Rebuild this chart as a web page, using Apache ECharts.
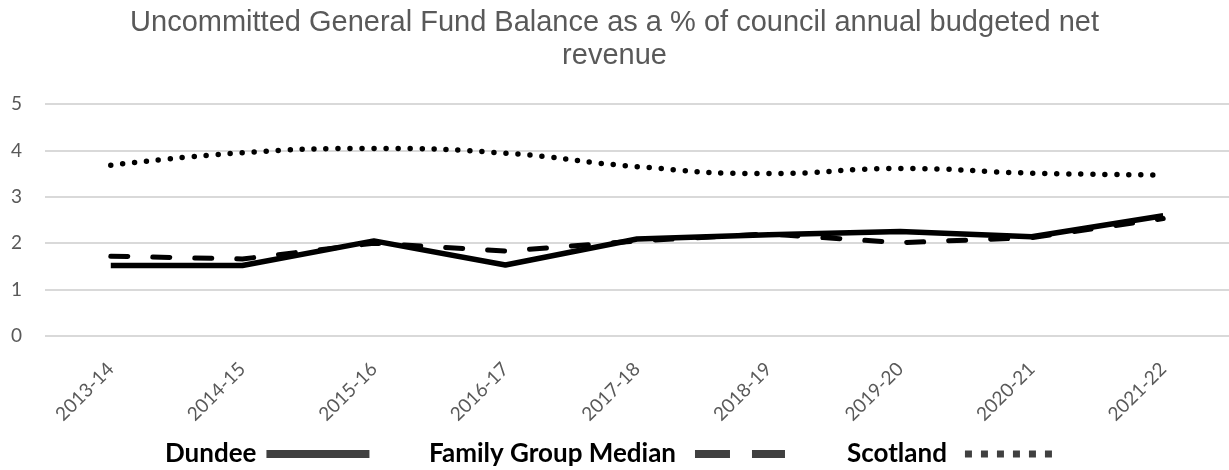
<!DOCTYPE html>
<html>
<head>
<meta charset="utf-8">
<script src="https://cdn.jsdelivr.net/npm/echarts@6/dist/echarts.min.js"></script>
<style>
  html, body { margin: 0; padding: 0; background: #fff; }
  #chart { width: 1229px; height: 470px; }
</style>
</head>
<body>
<div id="chart"></div>
<script>
// Financial years on the category axis
const years = ['2013-14', '2014-15', '2015-16', '2016-17', '2017-18', '2018-19', '2019-20', '2020-21', '2021-22'];

// Uncommitted General Fund balance, % of annual budgeted net revenue
const dundee = [1.52, 1.52, 2.05, 1.53, 2.09, 2.18, 2.25, 2.14, 2.59];
const familyGroupMedian = [1.72, 1.66, 2.0, 1.83, 2.05, 2.2, 2.01, 2.12, 2.53];
const scotland = [3.68, 3.95, 4.04, 3.94, 3.65, 3.5, 3.61, 3.51, 3.47];

// Value axis ticks
const yTicks = [0, 1, 2, 3, 4, 5];

const titleText = 'Uncommitted General Fund Balance as a % of council annual budgeted net\nrevenue';

const chart = echarts.init(document.getElementById('chart'), null, { renderer: 'canvas' });

const labelFont = 'Lato, "Open Sans", sans-serif';
const legendText = {
  fontFamily: labelFont,
  fontWeight: 'bold',
  fontSize: 26,
  color: '#000000'
};

// One legend block per series: bold name followed by its line sample
function legendFor(name, icon, w, h, left, gap) {
  return {
    left: left,
    top: 441,
    padding: 0,
    align: 'right',
    selectedMode: false,
    itemWidth: w,
    itemHeight: h,
    textStyle: Object.assign({ padding: [0, gap, 0, 0] }, legendText),
    data: [{
      name: name,
      icon: icon,
      itemStyle: { color: '#404040', borderWidth: 0 }
    }]
  };
}

chart.setOption({
  animation: false,
  backgroundColor: '#ffffff',
  title: {
    text: titleText,
    left: 'center',
    top: 6,
    padding: 0,
    textStyle: {
      fontFamily: '"Liberation Sans", Arial, sans-serif',
      fontWeight: 'normal',
      fontSize: 29,
      lineHeight: 33,
      color: '#595959'
    }
  },
  legend: [
    legendFor('Dundee', 'path://M0,0H103V8H0Z', 103, 8, 165, 5),
    legendFor('Family Group Median', 'path://M0,0H35V8H0Z M57,0H90V8H57Z', 90, 8, 429, 14),
    legendFor('Scotland',
      'path://M0,0H7V7H0Z M16,0H23V7H16Z M32,0H39V7H32Z M48,0H55V7H48Z M64,0H71V7H64Z M80,0H87V7H80Z',
      87, 7, 847, 13)
  ],
  grid: {
    left: 45,
    right: 0,
    top: 104,
    bottom: 134,
    containLabel: false
  },
  xAxis: {
    type: 'category',
    data: years,
    boundaryGap: true,
    axisLine: { show: false },
    axisTick: { show: false },
    axisLabel: {
      rotate: 45,
      margin: 30,
      fontFamily: labelFont,
      fontSize: 19,
      color: '#595959',
      interval: 0
    }
  },
  yAxis: {
    type: 'value',
    min: yTicks[0],
    max: yTicks[yTicks.length - 1],
    interval: 1,
    axisLine: { show: false },
    axisTick: { show: false },
    axisLabel: {
      margin: 23,
      fontFamily: labelFont,
      fontSize: 19,
      color: '#595959'
    },
    splitLine: { lineStyle: { color: '#d9d9d9', width: 2 } }
  },
  series: [
    {
      name: 'Dundee',
      type: 'line',
      data: dundee,
      symbol: 'none',
      smooth: false,
      lineStyle: { color: '#000000', width: 5.5, join: 'round' },
      itemStyle: { color: '#000000' },
      z: 3
    },
    {
      name: 'Family Group Median',
      type: 'line',
      data: familyGroupMedian,
      symbol: 'none',
      smooth: false,
      lineStyle: { color: '#000000', width: 5, type: [17, 25], cap: 'round', join: 'round' },
      itemStyle: { color: '#000000' },
      z: 2
    },
    {
      name: 'Scotland',
      type: 'line',
      data: scotland,
      symbol: 'none',
      smooth: 0.5,
      lineStyle: { color: '#000000', width: 5.5, type: [0, 12], cap: 'round' },
      itemStyle: { color: '#000000' },
      z: 2
    }
  ]
});
</script>
</body>
</html>
